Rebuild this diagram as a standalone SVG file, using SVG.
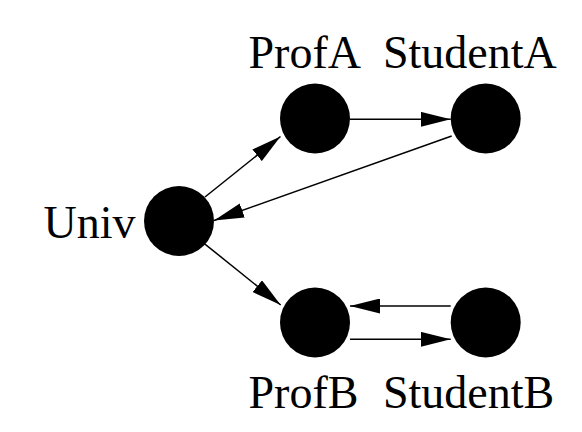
<svg xmlns="http://www.w3.org/2000/svg" width="582" height="432" viewBox="0 0 582 432">
<style>
.node{fill:#000}
.lbl{font-family:"Liberation Serif","Times New Roman",serif;font-size:46px;fill:#000}
.edge{stroke:#000;stroke-width:1.5;fill:none;marker-end:url(#arr)}
</style>
<defs>
<marker id="arr" markerUnits="userSpaceOnUse" markerWidth="30" markerHeight="15" refX="30" refY="7.5" orient="auto">
<path d="M0,0 L30,7.5 L0,15 z" fill="#000"/>
</marker>
</defs>
<rect width="582" height="432" fill="#fff"/>
<g id="edges">
<line class="edge" x1="205" y1="197" x2="280.5" y2="136.5"/>
<line class="edge" x1="350" y1="119.3" x2="450.7" y2="119.3"/>
<line class="edge" x1="451.7" y1="136" x2="214" y2="220.5"/>
<line class="edge" x1="204" y1="243.3" x2="280.7" y2="305"/>
<line class="edge" x1="450.7" y1="306" x2="350" y2="306"/>
<line class="edge" x1="350" y1="339.3" x2="450.7" y2="339.3"/>
</g>
<g id="Univ">
<circle class="node" cx="179" cy="221" r="35"/>
<text class="lbl" x="43.5" y="238.3">Univ</text>
</g>
<g id="ProfA">
<circle class="node" cx="315" cy="118.5" r="35"/>
<text class="lbl" x="248.5" y="67.7">ProfA</text>
</g>
<g id="StudentA">
<circle class="node" cx="485.7" cy="118.5" r="35"/>
<text class="lbl" x="383" y="67.7">StudentA</text>
</g>
<g id="ProfB">
<circle class="node" cx="315" cy="322.5" r="35"/>
<text class="lbl" x="248.5" y="408.3">ProfB</text>
</g>
<g id="StudentB">
<circle class="node" cx="485.7" cy="322.5" r="35"/>
<text class="lbl" x="383" y="408.3">StudentB</text>
</g>
</svg>
